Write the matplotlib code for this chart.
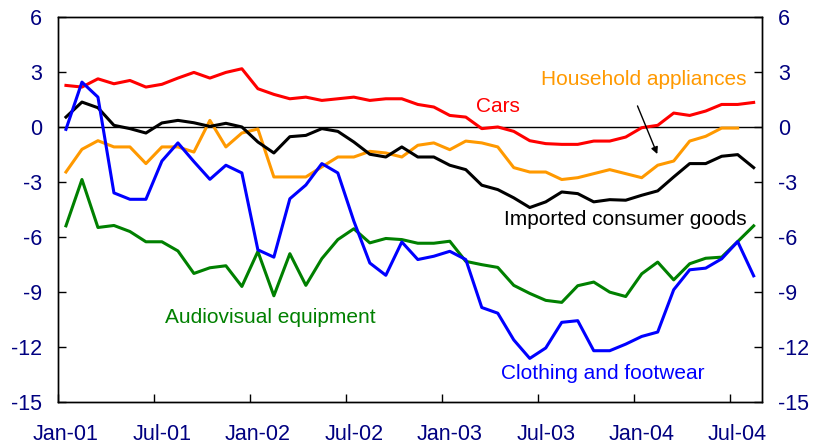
import numpy as np
import matplotlib.pyplot as plt

# mois : Jan-01 ... Aug-04 (44 points)
mois = np.arange(44) + 0.5

voitures = [2.29, 2.20, 2.65, 2.38, 2.56, 2.20, 2.35, 2.69, 3.00, 2.69, 3.00, 3.20,
            2.11, 1.80, 1.56, 1.65, 1.47, 1.56, 1.65, 1.47, 1.56, 1.56, 1.25, 1.11,
            0.65, 0.56, -0.07, 0.02, -0.22, -0.73, -0.89, -0.93, -0.93, -0.75, -0.75, -0.53,
            -0.02, 0.11, 0.78, 0.65, 0.89, 1.25, 1.25, 1.36]

electromenager = [-2.44, -1.20, -0.73, -1.07, -1.07, -1.98, -1.07, -1.07, -1.35, 0.38, -1.07, -0.31,
                  -0.09, -2.71, -2.71, -2.71, -2.16, -1.62, -1.62, -1.31, -1.40, -1.62, -0.98, -0.85,
                  -1.22, -0.75, -0.85, -1.07, -2.20, -2.44, -2.44, -2.85, -2.75, -2.53, -2.31, -2.53,
                  -2.75, -2.07, -1.84, -0.75, -0.49, -0.04, -0.04, np.nan]

importes = [0.56, 1.38, 1.07, 0.11, -0.07, -0.31, 0.24, 0.38, 0.25, 0.05, 0.22, 0.02,
            -0.80, -1.40, -0.51, -0.44, -0.07, -0.22, -0.80, -1.47, -1.62, -1.07, -1.62, -1.62,
            -2.07, -2.31, -3.16, -3.40, -3.85, -4.38, -4.07, -3.53, -3.62, -4.07, -3.95, -3.98,
            -3.71, -3.47, -2.71, -1.98, -1.98, -1.58, -1.49, -2.20]

audiovisuel = [-5.38, -2.85, -5.47, -5.36, -5.69, -6.25, -6.25, -6.75, -7.98, -7.67, -7.56, -8.69,
               -6.78, -9.20, -6.90, -8.63, -7.17, -6.13, -5.54, -6.31, -6.07, -6.13, -6.33, -6.33,
               -6.22, -7.32, -7.50, -7.65, -8.63, -9.07, -9.45, -9.56, -8.65, -8.45, -9.00, -9.24,
               -8.00, -7.36, -8.33, -7.45, -7.15, -7.09, -6.24, -5.38]

vetements = [-0.11, 2.47, 1.65, -3.58, -3.93, -3.93, -1.84, -0.85, -1.87, -2.84, -2.07, -2.49,
             -6.69, -7.09, -3.90, -3.15, -1.98, -2.49, -5.12, -7.41, -8.08, -6.26, -7.22, -7.04,
             -6.77, -7.22, -9.84, -10.15, -11.61, -12.62, -12.05, -10.65, -10.56, -12.20, -12.20, -11.84,
             -11.42, -11.18, -8.87, -7.78, -7.69, -7.18, -6.24, -8.11]

etiquettes_x = ['Jan-01', 'Jul-01', 'Jan-02', 'Jul-02', 'Jan-03', 'Jul-03', 'Jan-04', 'Jul-04']
graduations_y = [-15, -12, -9, -6, -3, 0, 3, 6]

bleu_marine = '#000080'
plt.rcParams['font.family'] = ['Liberation Sans', 'DejaVu Sans']
plt.rcParams['axes.unicode_minus'] = False

fig = plt.figure(figsize=(8.14, 4.47), dpi=100)
ax = fig.add_axes([0.0712, 0.1007, 0.8645, 0.8602])
lw = 2.2
taille = 15.5

ax.axhline(0, color='black', lw=1)
ax.plot(mois, voitures, color='#FF0000', lw=lw)
ax.plot(mois, electromenager, color='#FF9900', lw=lw)
ax.plot(mois, importes, color='black', lw=lw)
ax.plot(mois, audiovisuel, color='#008000', lw=lw)
ax.plot(mois, vetements, color='#0000FF', lw=lw)

ax.set_xlim(0, 44)
ax.set_ylim(-15, 6)
ax.set_yticks(graduations_y)
ax.set_xticks(np.arange(0, 44, 6))
ax.set_xticklabels([])
ax.set_xticks(np.arange(0, 44, 6) + 0.5, minor=True)
ax.set_xticklabels(etiquettes_x, minor=True)
ax.tick_params(axis='x', which='major', direction='in', length=6, width=1)
ax.tick_params(axis='x', which='minor', length=0, pad=16, labelsize=taille, labelcolor=bleu_marine)
ax.tick_params(axis='y', direction='in', length=6, width=1, pad=11.5,
               labelsize=taille, labelcolor=bleu_marine)

ax2 = ax.twinx()
ax2.set_ylim(-15, 6)
ax2.set_yticks(graduations_y)
ax2.tick_params(axis='y', direction='in', length=6, width=1, pad=12,
                labelsize=taille, labelcolor=bleu_marine)

for a in (ax, ax2):
    for s in a.spines.values():
        s.set_linewidth(1)

# Étiquettes des séries
ax.text(27.5, 0.86, 'Cars', color='#FF0000', fontsize=15, ha='center', va='baseline')
ax.text(36.6, 2.3, 'Household appliances', color='#FF9900', fontsize=15, ha='center', va='baseline')
ax.text(35.5, -5.36, 'Imported consumer goods', color='black', fontsize=15, ha='center', va='baseline')
ax.text(13.3, -10.67, 'Audiovisual equipment', color='#008000', fontsize=15, ha='center', va='baseline')
ax.text(34.05, -13.77, 'Clothing and footwear', color='#0000FF', fontsize=15, ha='center', va='baseline')
ax.annotate('', xy=(37.54, -1.6), xytext=(36.17, 1.31),
            arrowprops=dict(arrowstyle='-|>', color='black', lw=1, mutation_scale=10))

fig.savefig('out.png', dpi=100)
